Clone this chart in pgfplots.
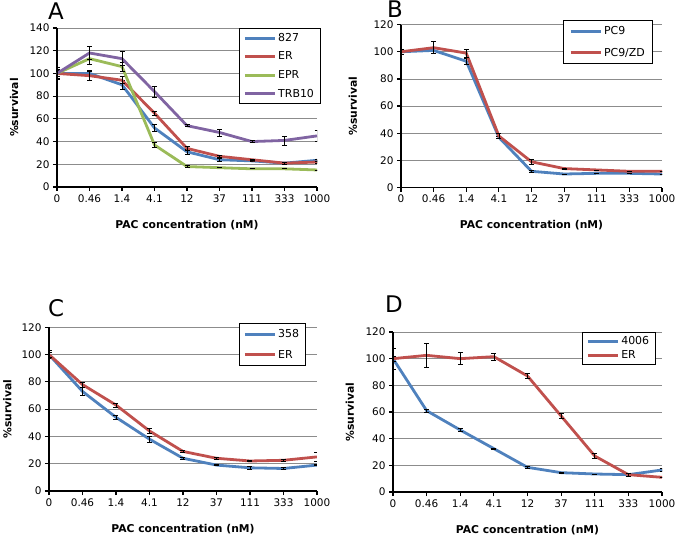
\documentclass[border=0pt]{standalone}
\usepackage{pgfplots}
\pgfplotsset{compat=1.18}
\usepackage{fontspec}
\setmainfont{DejaVu Sans}
\definecolor{cblue}{RGB}{79,129,189}
\definecolor{cred}{RGB}{192,80,77}
\definecolor{cgreen}{RGB}{155,187,89}
\definecolor{cpurple}{RGB}{128,100,162}
\pgfplotsset{
 panel/.style={
  scale only axis,
  axis x line*=bottom, axis y line*=left,
  axis line style={black, line width=1.6bp, -},
  xmin=0, xmax=8, ymin=0,
  xtick={0,...,8},
  xticklabels={0,0.46,1.4,4.1,12,37,111,333,1000},
  ymajorgrids, grid style={black!45, line width=0.8bp},
  tick style={black, line width=1.2bp},
  tick align=outside,
  major tick length=4bp,
  ticklabel style={font=\fontsize{10.5}{12}\selectfont},
  /pgf/number format/assume math mode=true,
  xlabel={PAC concentration (nM)},
  ylabel={\%survival},
  label style={font=\bfseries\fontsize{10.8}{12}\selectfont},
  xlabel style={at={(axis description cs:0.5,0)}, anchor=center, yshift=-38bp},
  every axis plot/.append style={line width=2.8bp, mark=none},
  error bars/y dir=both, error bars/y explicit,
  error bars/error bar style={black, line width=0.7bp},
  error bars/error mark options={rotate=90, mark size=2.5bp, black, line width=0.7bp},
  legend cell align=left,
  legend style={draw=black, line width=0.8bp, fill=white, anchor=north west,
    font=\fontsize{11}{13}\selectfont, row sep=5bp, inner xsep=4bp, inner ysep=3bp},
  legend image code/.code={\draw[#1, line width=2.8bp] (0bp,0bp) -- (30bp,0bp);},
 }
}
\begin{document}
\begin{tikzpicture}
\useasboundingbox (0,0) rectangle (675bp,535bp);
% Panel A
\begin{axis}[panel, at={(57bp,348bp)}, anchor=south west, width=260bp, height=159bp,
  ymax=140, ytick={0,20,...,140},
  ylabel style={at={(axis description cs:-0.165,0.5)}, anchor=center},
  legend style={at={(rel axis cs:0.70,1.0)}}]
\addplot[cblue] table[x=x,y=y,y error=e] {
x y e
0 100 4
1 100 3
2 90 4
3 52 3
4 31 2
5 24 1
6 23 0.5
7 21 1
8 23.5 0.5
};
\addplot[cred] table[x=x,y=y,y error=e] {
x y e
0 100 3
1 98 4
2 94 3
3 65 2
4 34 2
5 27 1
6 24 0.5
7 21 1
8 22 1
};
\addplot[cgreen] table[x=x,y=y,y error=e] {
x y e
0 100 3
1 113 5
2 106 4
3 37 2
4 18 1
5 17 0
6 16 0
7 16 0
8 15 0
};
\addplot[cpurple] table[x=x,y=y,y error=e] {
x y e
0 100 5
1 118 6
2 113 6
3 84 5
4 54 1
5 48 3
6 40 1
7 41 4
8 45 5
};
\legend{827,ER,EPR,TRB10}
\end{axis}
% Panel B
\begin{axis}[panel, at={(401bp,347.4bp)}, anchor=south west, width=261bp, height=163bp,
  ymax=120, ytick={0,20,...,120},
  ylabel style={at={(axis description cs:-0.184,0.5)}, anchor=center},
  legend style={at={(rel axis cs:0.62,1.028)}, row sep=8bp, inner ysep=4bp, inner xsep=6bp}]
\addplot[cblue] table[x=x,y=y,y error=e] {
x y e
0 100 2
1 101 2
2 93 2
3 37 1
4 12 1
5 10 0
6 10.5 0
7 10.5 0
8 10 0
};
\addplot[cred] table[x=x,y=y,y error=e] {
x y e
0 100 2
1 103 4.5
2 99 3
3 38 2
4 19 2
5 14 0.5
6 13 0
7 12 0
8 12 0
};
\legend{PC9,PC9/ZD}
\end{axis}
% Panel C
\begin{axis}[panel, at={(49bp,44bp)}, anchor=south west, width=268bp, height=163.7bp,
  ymax=120, ytick={0,20,...,120},
  ylabel style={at={(axis description cs:-0.155,0.5)}, anchor=center},
  legend style={at={(rel axis cs:0.709,1.026)}, row sep=7bp, inner ysep=4bp}]
\addplot[cblue] table[x=x,y=y,y error=e] {
x y e
0 100 3
1 73 3
2 54 1.5
3 38 2
4 24 0.5
5 19 0.5
6 17 1
7 16.5 0.5
8 19 0.5
};
\addplot[cred] table[x=x,y=y,y error=e] {
x y e
0 100 2
1 78 2
2 63 1.5
3 44 2
4 29 0.5
5 24 0.5
6 22 0.5
7 22.5 1
8 25 3
};
\legend{358,ER}
\end{axis}
% Panel D
\begin{axis}[panel, at={(393bp,43bp)}, anchor=south west, width=269bp, height=160bp,
  ymax=120, ytick={0,20,...,120},
  ylabel style={at={(axis description cs:-0.16,0.5)}, anchor=center},
  legend style={at={(rel axis cs:0.703,1.0)}, row sep=1bp, inner ysep=2bp}]
\addplot[cblue] table[x=x,y=y,y error=e] {
x y e
0 100 8
1 61 1
2 46.5 1
3 32.5 0.5
4 18.5 0.5
5 14.5 0.5
6 13.5 0
7 13 1
8 16.5 1
};
\addplot[cred] table[x=x,y=y,y error=e] {
x y e
0 100 2
1 102.5 9
2 100 4.5
3 101.5 2.5
4 87 2
5 57 2
6 27 2
7 13 1
8 11 0
};
\legend{4006,ER}
\end{axis}
\node[anchor=base west, inner sep=0pt, font=\fontsize{23}{23}\selectfont] at (48bp,515bp) {A};
\node[anchor=base west, inner sep=0pt, font=\fontsize{23}{23}\selectfont] at (387bp,517bp) {B};
\node[anchor=base west, inner sep=0pt, font=\fontsize{23}{23}\selectfont] at (48bp,218bp) {C};
\node[anchor=base west, inner sep=0pt, font=\fontsize{23}{23}\selectfont] at (385bp,222bp) {D};
\end{tikzpicture}
\end{document}
